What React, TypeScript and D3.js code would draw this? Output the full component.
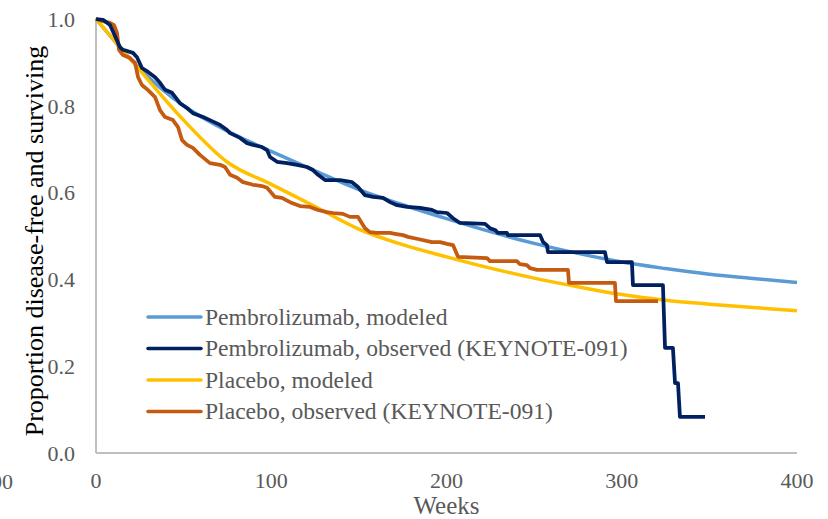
import React from "react";
import * as d3 from "d3";

const xTicks = [0, 100, 200, 300, 400];
const yTicks = [0, 0.2, 0.4, 0.6, 0.8, 1.0];

const seriesNames = [
  "Pembrolizumab, modeled",
  "Pembrolizumab, observed (KEYNOTE-091)",
  "Placebo, modeled",
  "Placebo, observed (KEYNOTE-091)",
];
const seriesColors = ["#5B9BD5", "#002060", "#FFC000", "#C55A11"];

const pembroModeled: [number, number][] = [
  [0, 1.0], [25, 0.885], [50, 0.8], [75, 0.742], [100, 0.695], [125, 0.65],
  [150, 0.607], [175, 0.572], [200, 0.54], [225, 0.51], [250, 0.483],
  [275, 0.46], [300, 0.44], [325, 0.425], [350, 0.412], [375, 0.402], [400, 0.393],
];

const placeboModeled: [number, number][] = [
  [0, 1.0], [25, 0.882], [50, 0.767], [75, 0.67], [100, 0.619], [125, 0.568],
  [150, 0.516], [175, 0.48], [200, 0.452], [225, 0.426], [250, 0.403],
  [275, 0.383], [300, 0.365], [325, 0.352], [350, 0.343], [375, 0.335], [400, 0.328],
];

const pembroObserved: [number, number][] = [
  [0, 1.0], [4.0, 0.998], [8.0, 0.986], [13.7, 0.935], [15.4, 0.929], [21.1, 0.922],
  [23.4, 0.912], [26.2, 0.887], [29.7, 0.878], [33.7, 0.866], [36.5, 0.853],
  [39.4, 0.837], [43.4, 0.83], [47.9, 0.806], [51.9, 0.795], [55.3, 0.783],
  [61.1, 0.774], [65.0, 0.767], [70.8, 0.756], [74.8, 0.744], [76.5, 0.737],
  [82.2, 0.726], [86.2, 0.714], [89.6, 0.71], [94.7, 0.705], [97.6, 0.698],
  [99.3, 0.682], [103.3, 0.671], [109.0, 0.668], [114.7, 0.664], [120.4, 0.659],
  [123.8, 0.652], [126.7, 0.641], [130.7, 0.629], [139.2, 0.629], [146.1, 0.624],
  [149.5, 0.613], [153.5, 0.594], [158.1, 0.59], [163.8, 0.588], [167.8, 0.578],
  [171.8, 0.571], [177.5, 0.567], [184.9, 0.565], [191.7, 0.56], [194.6, 0.555],
  [200.3, 0.553], [203.7, 0.541], [207.7, 0.53], [222.0, 0.528], [224.8, 0.518],
  [227.7, 0.514], [229.4, 0.507], [234.5, 0.507], [235.1, 0.502], [253.4, 0.502],
  [255.1, 0.486], [257.3, 0.479], [257.9, 0.463], [290.4, 0.463], [291.6, 0.44],
  [305.8, 0.44], [306.4, 0.387], [323.5, 0.387], [324.7, 0.242], [329.2, 0.242],
  [330.4, 0.161], [332.1, 0.161], [333.2, 0.083], [347.5, 0.083],
];

const placeboObserved: [number, number][] = [
  [0, 1.0], [4.0, 0.995], [8.0, 0.991], [10.3, 0.986], [12.0, 0.968], [13.1, 0.929],
  [15.4, 0.917], [19.4, 0.91], [22.3, 0.899], [24.0, 0.866], [26.2, 0.848],
  [29.7, 0.836], [33.7, 0.82], [36.5, 0.79], [39.4, 0.774], [43.9, 0.767],
  [46.8, 0.751], [49.1, 0.721], [51.9, 0.71], [55.3, 0.703], [59.3, 0.687],
  [65.0, 0.668], [70.8, 0.664], [73.6, 0.659], [76.5, 0.641], [80.5, 0.634],
  [83.9, 0.624], [89.6, 0.618], [94.7, 0.615], [97.6, 0.611], [102.1, 0.59],
  [106.1, 0.588], [110.7, 0.578], [116.4, 0.569], [122.1, 0.567], [126.7, 0.56],
  [131.8, 0.555], [135.2, 0.553], [140.9, 0.551], [144.9, 0.544], [149.5, 0.544],
  [153.5, 0.518], [156.3, 0.509], [160.3, 0.507], [167.8, 0.507], [170.6, 0.505],
  [175.2, 0.502], [178.0, 0.498], [183.7, 0.493], [191.7, 0.486], [196.3, 0.486],
  [200.3, 0.482], [203.7, 0.479], [206.6, 0.452], [223.1, 0.449], [224.8, 0.442],
  [240.2, 0.442], [241.9, 0.435], [245.9, 0.433], [247.6, 0.426], [251.6, 0.422],
  [269.3, 0.422], [269.9, 0.392], [296.1, 0.392], [296.7, 0.35], [320.7, 0.35],
];

const W = 828;
const H = 519;
const X0 = 96;
const X1 = 797;
const Y0 = 453;
const Y1 = 19;
const FONT = "'Liberation Serif', 'Times New Roman', serif";

export default function App() {
  const x = d3.scaleLinear().domain([0, 400]).range([X0, X1]);
  const y = d3.scaleLinear().domain([0, 1]).range([Y0, Y1]);

  const smooth = d3
    .line<[number, number]>()
    .x((d) => x(d[0]))
    .y((d) => y(d[1]))
    .curve(d3.curveMonotoneX);
  const straight = d3
    .line<[number, number]>()
    .x((d) => x(d[0]))
    .y((d) => y(d[1]));

  const legendX1 = 148;
  const legendX2 = 201;
  const legendY = [317, 348.5, 380, 411.5];

  return (
    <svg
      width={W}
      height={H}
      style={{ position: "absolute", left: 0, top: 0, background: "#fff" }}
      fontFamily={FONT}
    >
      {/* axes */}
      <line x1={X0} x2={X0} y1={Y1 - 1} y2={Y0} stroke="#BFBFBF" strokeWidth={2} />
      <line x1={X0} x2={X1} y1={Y0} y2={Y0} stroke="#BFBFBF" strokeWidth={2} />

      {yTicks.map((t) => (
        <text
          key={"y" + t}
          x={75}
          y={y(t)}
          dy="0.35em"
          textAnchor="end"
          fontSize={22}
          fill="#595959"
        >
          {t.toFixed(1)}
        </text>
      ))}
      {xTicks.map((t) => (
        <text
          key={"x" + t}
          x={x(t)}
          y={488}
          textAnchor="middle"
          fontSize={22}
          fill="#595959"
        >
          {t}
        </text>
      ))}
      <text x={13} y={489} textAnchor="end" fontSize={22} fill="#595959">
        400
      </text>

      <text x={x(200)} y={514} textAnchor="middle" fontSize={25} fill="#595959">
        Weeks
      </text>
      <text
        transform={`translate(43, ${(Y0 + Y1) / 2 + 5}) rotate(-90)`}
        textAnchor="middle"
        fontSize={26}
        fill="#000"
      >
        Proportion disease-free and surviving
      </text>

      {/* series */}
      <path d={smooth(pembroModeled) || ""} fill="none" stroke={seriesColors[0]} strokeWidth={3.5} />
      <path d={smooth(placeboModeled) || ""} fill="none" stroke={seriesColors[2]} strokeWidth={3.5} />
      <path
        d={straight(placeboObserved) || ""}
        fill="none"
        stroke={seriesColors[3]}
        strokeWidth={3.75}
        strokeLinejoin="round"
      />
      <path
        d={straight(pembroObserved) || ""}
        fill="none"
        stroke={seriesColors[1]}
        strokeWidth={3.75}
        strokeLinejoin="round"
      />

      {/* legend */}
      {seriesNames.map((n, i) => (
        <g key={n}>
          <line
            x1={legendX1}
            x2={legendX2}
            y1={legendY[i]}
            y2={legendY[i]}
            stroke={seriesColors[i]}
            strokeWidth={3.5}
            strokeLinecap="round"
          />
          <text x={205} y={legendY[i]} dy="0.32em" fontSize={23.6} fill="#595959">
            {n}
          </text>
        </g>
      ))}
    </svg>
  );
}
